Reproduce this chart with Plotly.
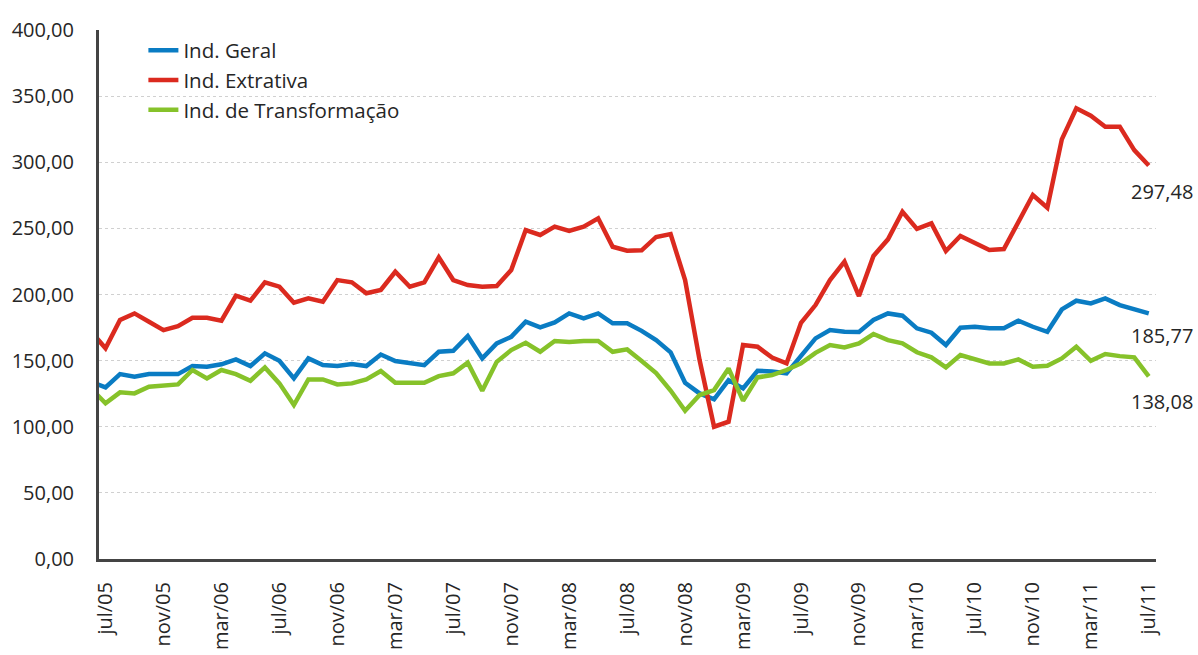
import plotly.graph_objects as go

# Months: index 0 = jun/05 (partly hidden behind the y axis), index 1 = jul/05 ... index 73 = jul/11
ind_geral = [134.0, 129.8, 139.8, 137.8, 139.8, 139.8, 139.8, 145.9, 145.4, 147.2,
             150.9, 145.9, 155.5, 149.9, 136.6, 151.7, 146.6, 145.9, 147.4, 145.9,
             154.6, 149.7, 147.9, 146.6, 156.7, 157.5, 168.6, 151.7, 163.0, 168.0,
             179.4, 175.1, 178.9, 185.7, 182.0, 185.7, 178.2, 178.2, 172.5, 165.5,
             156.3, 133.3, 125.2, 120.7, 135.3, 129.0, 142.3, 141.8, 140.4, 154.2,
             166.8, 173.1, 171.8, 171.6, 180.7, 185.7, 184.0, 174.4, 171.1, 161.8,
             174.9, 175.6, 174.4, 174.4, 180.2, 175.6, 171.8, 188.7, 195.3, 193.3,
             197.1, 192.0, 188.7, 185.77]

ind_extrativa = [172.0, 159.3, 180.7, 185.7, 179.4, 173.1, 176.1, 182.4, 182.4, 180.2,
                 199.1, 195.3, 209.2, 205.9, 193.8, 197.1, 194.5, 210.9, 209.2, 200.9,
                 203.4, 217.2, 205.9, 209.2, 228.1, 210.9, 207.1, 205.9, 206.4, 218.5,
                 248.7, 245.0, 251.3, 248.0, 251.3, 257.6, 236.1, 233.1, 233.4, 243.5,
                 245.7, 210.9, 150.4, 100.0, 103.8, 161.8, 160.5, 152.3, 147.9, 178.6,
                 192.0, 210.9, 224.8, 198.8, 229.1, 241.7, 262.6, 249.6, 253.8, 232.9,
                 244.2, 238.7, 233.6, 234.4, 255.0, 275.2, 265.6, 317.3, 340.8, 335.2,
                 326.9, 326.9, 309.2, 297.48]

ind_transformacao = [129.0, 117.7, 126.0, 125.2, 130.2, 131.0, 132.0, 142.9, 136.6, 142.9,
                     139.8, 134.8, 144.9, 132.8, 116.4, 135.8, 135.8, 132.0, 132.8, 135.8,
                     142.2, 133.3, 133.3, 133.3, 138.3, 140.4, 148.4, 127.2, 149.1, 158.0,
                     163.5, 156.7, 164.8, 164.0, 164.8, 164.8, 156.7, 158.5, 149.7, 140.6,
                     127.4, 112.1, 124.0, 127.7, 144.1, 119.7, 137.3, 139.1, 142.9, 147.9,
                     155.9, 161.8, 160.0, 163.0, 170.1, 165.5, 163.0, 156.3, 152.5, 144.9,
                     154.2, 150.9, 147.9, 147.9, 150.9, 145.4, 146.1, 151.7, 160.5, 149.9,
                     155.0, 153.4, 152.5, 138.08]

month_index = list(range(len(ind_geral)))

tick_positions = list(range(1, 74, 4))
tick_labels = ["jul/05", "nov/05", "mar/06", "jul/06", "nov/06", "mar/07", "jul/07",
               "nov/07", "mar/08", "jul/08", "nov/08", "mar/09", "jul/09", "nov/09",
               "mar/10", "jul/10", "nov/10", "mar/11", "jul/11"]

series = [
    ("Ind. Geral", ind_geral, "#0a7cc3"),
    ("Ind. Extrativa", ind_extrativa, "#db2a1f"),
    ("Ind. de Transformação", ind_transformacao, "#86c22a"),
]

FONT = "Open Sans"
TXT = "#262626"
fig = go.Figure()
for name, vals, color in series:
    fig.add_trace(go.Scatter(x=month_index, y=vals, mode="lines", name=name,
                             line=dict(color=color, width=4.5)))

# end-value labels
end_shifts = [-22, -26, -25]
for (name, vals, color), ys in zip(series, end_shifts):
    fig.add_annotation(x=month_index[-1], y=vals[-1], xref="x", yref="y",
                       text=f"{vals[-1]:.2f}".replace(".", ","), showarrow=False,
                       xanchor="center", yanchor="middle", xshift=13, yshift=ys,
                       font=dict(family=FONT, size=20, color=TXT))

fig.update_layout(
    width=1198, height=655,
    margin=dict(l=99, r=42, t=30, b=96, autoexpand=False),
    paper_bgcolor="white", plot_bgcolor="white",
    separators=",.",
    font=dict(family=FONT, size=19, color=TXT),
    showlegend=True,
    legend=dict(x=0.042, y=0.999, xanchor="left", yanchor="top",
                bgcolor="rgba(0,0,0,0)", font=dict(family=FONT, size=20.5, color=TXT),
                tracegroupgap=0, itemwidth=30),
)
fig.update_xaxes(range=[0.55, 73.5], tickmode="array", tickvals=tick_positions,
                 ticktext=tick_labels, tickangle=-90, showgrid=False, zeroline=False,
                 showline=True, linecolor="#444444", linewidth=3, ticks="",
                 automargin=False, ticklabelstandoff=12,
                 tickfont=dict(family=FONT, size=20, color=TXT))
fig.update_yaxes(range=[0, 400], tickvals=[0, 50, 100, 150, 200, 250, 300, 350, 400],
                 tickformat=".2f", showgrid=True, gridcolor="#d0d0d0", griddash="dot",
                 gridwidth=1, zeroline=False, showline=True, linecolor="#444444",
                 linewidth=3, ticks="", automargin=False, ticklabelstandoff=18,
                 tickfont=dict(family=FONT, size=20, color=TXT))

fig.write_html("out.html", config={"displayModeBar": False},
               post_script="document.body.style.margin='0';document.body.style.padding='0';")
